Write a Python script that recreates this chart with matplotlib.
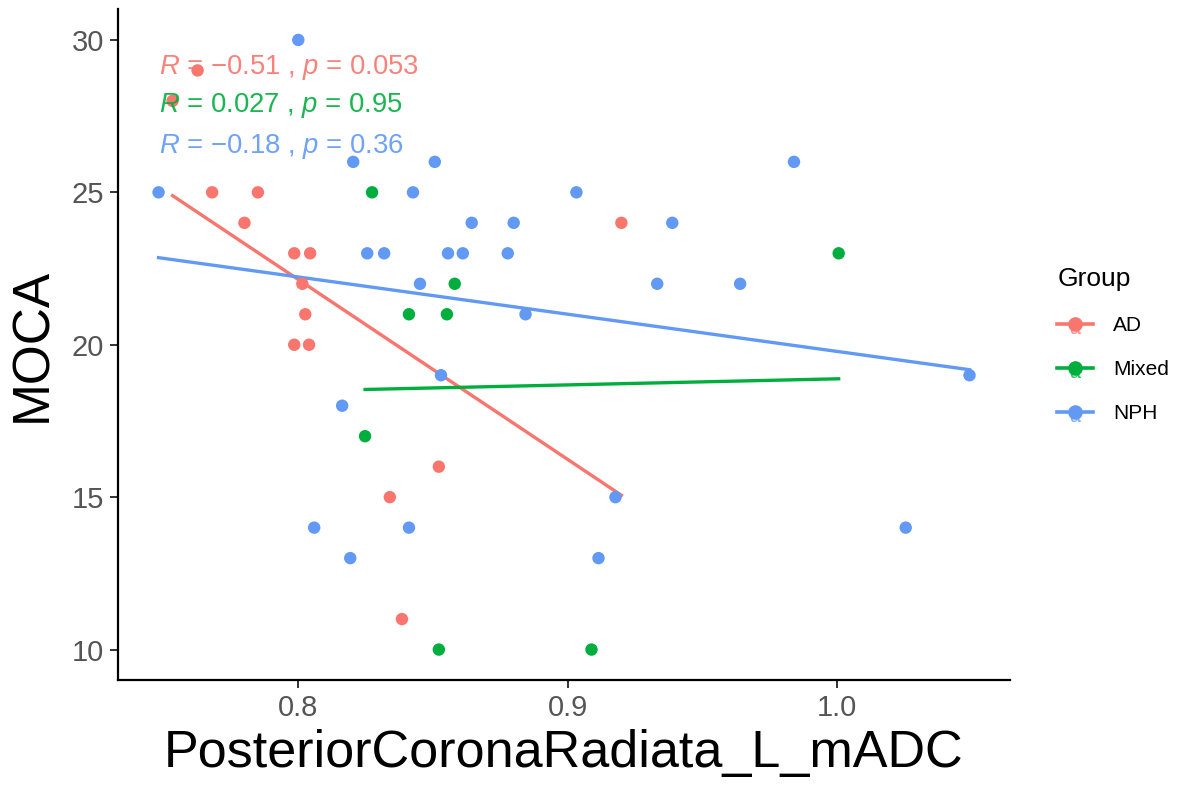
import numpy as np
import matplotlib
matplotlib.use("Agg")
import matplotlib.pyplot as plt
from matplotlib.legend_handler import HandlerBase
from matplotlib.lines import Line2D
from matplotlib.text import Text

plt.rcParams['font.family'] = ['Liberation Sans', 'DejaVu Sans']
plt.rcParams['mathtext.fontset'] = 'custom'
plt.rcParams['mathtext.rm'] = 'Liberation Sans'
plt.rcParams['mathtext.it'] = 'Liberation Sans:italic'

# ---- data ----
groups = ["AD", "Mixed", "NPH"]
colors = ["#F8766D", "#00AE3E", "#6199F5"]

ad_x = [0.7533, 0.7626, 0.768, 0.785, 0.780, 0.7985, 0.8044, 0.8015, 0.8026,
        0.7985, 0.804, 0.920, 0.8522, 0.834, 0.8385]
ad_y = [28, 29, 25, 25, 24, 23, 23, 22, 21, 20, 20, 24, 16, 15, 11]

mixed_x = [0.8274, 0.8411, 0.8581, 0.8552, 0.8248, 0.8522, 0.9089, 1.0007]
mixed_y = [25, 21, 22, 21, 17, 10, 10, 23]

nph_x = [0.800, 0.7481, 0.8204, 0.8507, 0.8426, 0.9033, 0.9841, 0.8256, 0.8319,
         0.8556, 0.8611, 0.8778, 0.8644, 0.880, 0.8452, 0.8844, 0.8530, 0.8163,
         0.8059, 0.8193, 0.8411, 0.9178, 0.9115, 0.9333, 0.9641, 0.9389, 1.0493,
         1.0256]
nph_y = [30, 25, 26, 26, 25, 25, 26, 23, 23, 23, 23, 23, 24, 24, 22, 21, 19, 18,
         14, 13, 14, 15, 13, 22, 22, 24, 19, 14]

cor_labels = [r"$\mathit{R}$ = −0.51 , $\mathit{p}$ = 0.053",
              r"$\mathit{R}$ = 0.027 , $\mathit{p}$ = 0.95",
              r"$\mathit{R}$ = −0.18 , $\mathit{p}$ = 0.36"]
cor_label_y = [29.1, 27.85, 26.5]

xticks = [0.8, 0.9, 1.0]
xtick_labels = ["0.8", "0.9", "1.0"]
yticks = [10, 15, 20, 25, 30]

xs = [ad_x, mixed_x, nph_x]
ys = [ad_y, mixed_y, nph_y]

fig = plt.figure(figsize=(11.8, 7.88), dpi=100)
ax = fig.add_axes([0.1, 0.137, 0.756, 0.851])

for gx, gy, c in zip(xs, ys, colors):
    gx = np.array(gx); gy = np.array(gy)
    ax.scatter(gx, gy, s=80, color=c, edgecolors='none', zorder=3)
    k, b = np.polyfit(gx, gy, 1)
    xl = np.array([gx.min(), gx.max()])
    ax.plot(xl, k * xl + b, color=c, lw=2.4, zorder=2)

allx = np.concatenate([np.array(v) for v in xs])
for lab, ly, c in zip(cor_labels, cor_label_y, colors):
    ax.text(allx.min(), ly, lab, color=c, fontsize=19.8, ha='left', va='center',
            zorder=4, alpha=0.9)

xmin, xmax = allx.min(), allx.max()
pad = (xmax - xmin) * 0.05
ax.set_xlim(xmin - pad, xmax + pad)
ax.set_ylim(9, 31)
ax.set_xticks(xticks)
ax.set_xticklabels(xtick_labels)
ax.set_yticks(yticks)

for s in ['top', 'right']:
    ax.spines[s].set_visible(False)
for s in ['left', 'bottom']:
    ax.spines[s].set_linewidth(1.6)
ax.tick_params(axis='both', labelsize=21, labelcolor='#555555', length=6, width=1.4,
               color='#333333', pad=4)

ax.set_xlabel("PosteriorCoronaRadiata_L_mADC", fontsize=37.5, labelpad=5)
ax.set_ylabel("MOCA", fontsize=37, labelpad=10)


class HandlerKey(HandlerBase):
    def create_artists(self, legend, orig_handle, xdescent, ydescent, width, height,
                       fontsize, trans):
        c = orig_handle.get_color()
        cy = height / 2 - ydescent
        ln = Line2D([-xdescent, width - xdescent], [cy, cy], color=c, lw=2.6,
                    transform=trans)
        mk = Line2D([width / 2 - xdescent], [cy], marker='o', color=c, ms=9.5,
                    linestyle='none', transform=trans)
        tx = Text(width / 2 - xdescent, cy - height * 0.35, 'a', color=c,
                  fontsize=fontsize * 0.95, ha='center', va='center', transform=trans,
                  alpha=0.8)
        return [ln, mk, tx]


handles = [Line2D([], [], color=c) for c in colors]
leg = fig.legend(handles, groups, loc='upper left', bbox_to_anchor=(0.880, 0.685),
                 frameon=False, fontsize=15, title="Group", title_fontsize=19,
                 handler_map={Line2D: HandlerKey()}, handlelength=1.7,
                 labelspacing=1.2, handletextpad=1.0, alignment='left')

fig.savefig("out.png", dpi=100)
